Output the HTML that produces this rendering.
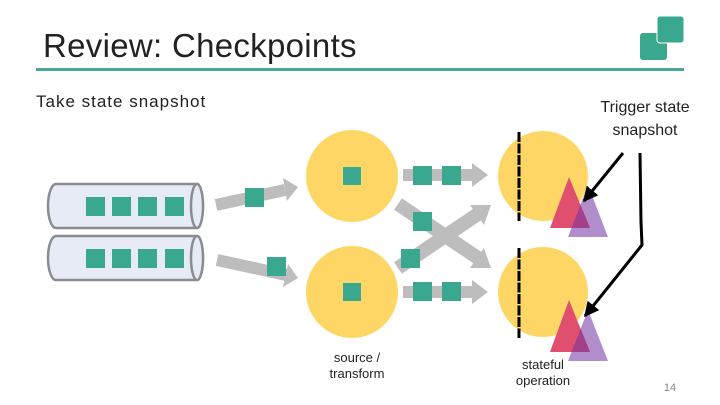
<!DOCTYPE html>
<html><head><meta charset="utf-8"><style>html,body{margin:0;padding:0;background:#fff}svg{display:block}text{font-family:"Liberation Sans",sans-serif}</style></head><body>
<svg width="720" height="405" viewBox="0 0 720 405" xmlns="http://www.w3.org/2000/svg">
<defs>
<marker id="ah" viewBox="0 0 10 10" refX="9" refY="5" markerWidth="5" markerHeight="5" orient="auto"><path d="M0,0L10,5L0,10z" fill="#000"/></marker>
<clipPath id="p1"><polygon points="588,185 568,237 608,237"/></clipPath>
<clipPath id="p2"><polygon points="588,310 568,361 608,361"/></clipPath>
</defs>
<text x="43" y="57" font-size="33" fill="#222" letter-spacing="0.3">Review: Checkpoints</text>
<rect x="36" y="68" width="648" height="3" fill="#4aa898"/>
<rect x="640" y="33" width="27" height="27" rx="3" fill="#3aa88e"/>
<rect x="657" y="16" width="27" height="27" rx="3" fill="#3aa88e" stroke="#fff" stroke-width="1"/>
<text x="36" y="107" font-size="17" fill="#222" letter-spacing="1">Take state snapshot</text>
<text x="645" y="112" font-size="16" text-anchor="middle" fill="#222">Trigger state</text>
<text x="645" y="135" font-size="16" text-anchor="middle" fill="#222">snapshot</text>
<g stroke="#8a8c92" stroke-width="2.5" fill="#e6ebf5">
<path d="M56,184 H197 A6,22 0 0 1 197,228 H56 A8,22 0 0 1 56,184z"/>
<ellipse cx="197" cy="206" rx="6" ry="22"/>
<path d="M56,236 H197 A6,22 0 0 1 197,280 H56 A8,22 0 0 1 56,236z"/>
<ellipse cx="197" cy="258" rx="6" ry="22"/>
</g>
<g fill="#3aa88e">
<rect x="86" y="197" width="19" height="19"/><rect x="112" y="197" width="19" height="19"/><rect x="138" y="197" width="19" height="19"/><rect x="165" y="197" width="19" height="19"/>
<rect x="86" y="249" width="19" height="19"/><rect x="112" y="249" width="19" height="19"/><rect x="138" y="249" width="19" height="19"/><rect x="165" y="249" width="19" height="19"/>
</g>
<g stroke="#bdbdbd" stroke-width="12" fill="none">
<line x1="216" y1="205" x2="285" y2="190"/>
<line x1="217" y1="260" x2="286" y2="275"/>
<line x1="403" y1="175" x2="475" y2="175"/>
<line x1="403" y1="292" x2="475" y2="292"/>
</g>
<g stroke="#bdbdbd" stroke-width="14" fill="none">
<line x1="398" y1="204" x2="478" y2="258"/>
<line x1="398" y1="268" x2="478" y2="214"/>
</g>
<g fill="#bdbdbd">
<polygon points="298,187 283,178 287,201"/>
<polygon points="298,278 288,264 283,287"/>
<polygon points="488,175 472,163 472,187"/>
<polygon points="488,292 472,280 472,304"/>
<polygon points="491,268 470,268 484,248"/>
<polygon points="491,205 484,225 470,205"/>
</g>
<g fill="#fdd666">
<circle cx="352" cy="176" r="46"/><circle cx="352" cy="292" r="46"/>
<circle cx="543" cy="176" r="45"/><circle cx="543" cy="292" r="45"/>
</g>
<g fill="#3aa88e">
<rect x="245" y="188" width="19" height="19"/><rect x="267" y="257" width="19" height="19"/>
<rect x="343" y="167" width="18" height="18"/><rect x="343" y="283" width="18" height="18"/>
<rect x="413" y="166" width="19" height="19"/><rect x="442" y="166" width="19" height="19"/>
<rect x="413" y="282" width="19" height="19"/><rect x="442" y="282" width="19" height="19"/>
<rect x="413" y="212" width="19" height="19"/><rect x="401" y="249" width="19" height="19"/>
</g>
<g stroke="#000" stroke-width="3" stroke-dasharray="10,1.5">
<line x1="519" y1="132" x2="519" y2="221"/><line x1="519" y1="248" x2="519" y2="338"/>
</g>
<polygon points="588,185 568,237 608,237" fill="#b18dcc"/>
<polygon points="569,177 550,228 590,228" fill="#e14f6f"/>
<polygon points="569,177 550,228 590,228" fill="#a43f8a" clip-path="url(#p1)"/>
<polygon points="588,310 568,361 608,361" fill="#b18dcc"/>
<polygon points="569,300 550,352 590,352" fill="#e14f6f"/>
<polygon points="569,300 550,352 590,352" fill="#a43f8a" clip-path="url(#p2)"/>
<line x1="623" y1="153" x2="584" y2="201" stroke="#000" stroke-width="3" marker-end="url(#ah)"/>
<polyline points="640,153 641,222 642,245 585,316" fill="none" stroke="#000" stroke-width="3" marker-end="url(#ah)"/>
<text x="357" y="362" font-size="13" text-anchor="middle" fill="#222">source /</text>
<text x="357" y="378" font-size="13" text-anchor="middle" fill="#222">transform</text>
<text x="543" y="369" font-size="13" text-anchor="middle" fill="#222">stateful</text>
<text x="543" y="385" font-size="13" text-anchor="middle" fill="#222">operation</text>
<text x="670" y="391" font-size="11" text-anchor="middle" fill="#888">14</text>
</svg>
</body></html>
